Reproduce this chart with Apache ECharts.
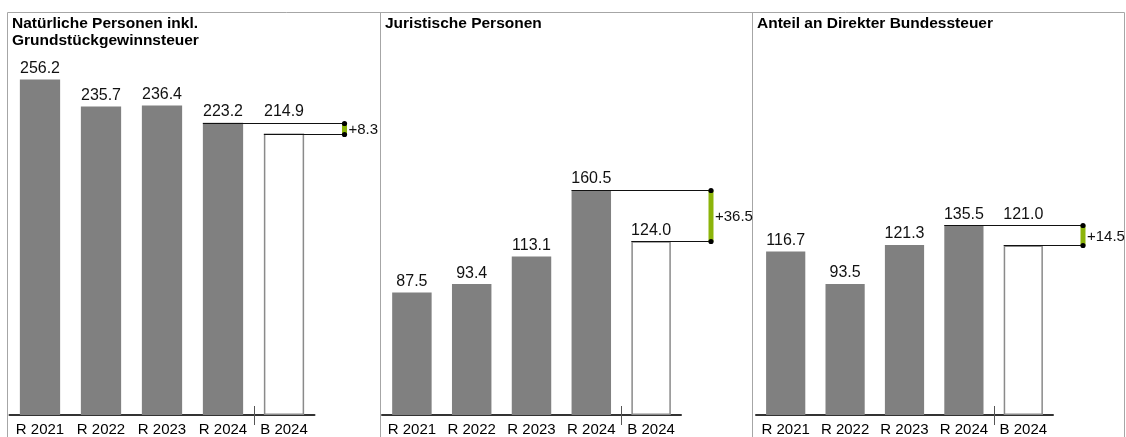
<!DOCTYPE html>
<html>
<head>
<meta charset="utf-8">
<script src="https://cdn.jsdelivr.net/npm/echarts@6/dist/echarts.min.js"></script>
<style>
html,body{margin:0;padding:0;background:#fff;}
#chart{width:1126px;height:437px;}
</style>
</head>
<body>
<div id="chart"></div>
<script>
// ---- data ----
const categories = ['R 2021', 'R 2022', 'R 2023', 'R 2024', 'B 2024'];
const panelTitles = ['Natürliche Personen inkl.\nGrundstückgewinnsteuer', 'Juristische Personen', 'Anteil an Direkter Bundessteuer'];
const natuerlichePersonen = [256.2, 235.7, 236.4, 223.2, 214.9];
const juristischePersonen = [87.5, 93.4, 113.1, 160.5, 124.0];
const anteilBundessteuer = [116.7, 93.5, 121.3, 135.5, 121.0];
const panelValues = [natuerlichePersonen, juristischePersonen, anteilBundessteuer];
const yMaxes = [286.4, 267.6, 267.6];

// ---- layout / style ----
const FONT = 'Liberation Sans, Arial, sans-serif';
const grids = [
  { left: 9.5, width: 305 },
  { left: 382, width: 299 },
  { left: 756, width: 297 }
];
const titleLefts = [12, 385, 757];
const BAR = '#808080';
const GREEN = '#8cb40a';

const chart = echarts.init(document.getElementById('chart'), null, { renderer: 'canvas' });

const option = {
  animation: false,
  backgroundColor: '#fff',
  title: panelTitles.map((t, i) => ({
    text: t, left: titleLefts[i], top: 15, padding: 0,
    textStyle: { fontFamily: FONT, fontSize: 15.5, fontWeight: 'bold', color: '#000', lineHeight: 17 }
  })),
  graphic: [
    { type: 'rect', shape: { x: 7.5, y: 12.5, width: 1117, height: 440 }, style: { fill: 'none', stroke: '#a6a6a6', lineWidth: 1 }, silent: true, z: -1 },
    { type: 'line', shape: { x1: 380.5, y1: 12.5, x2: 380.5, y2: 440 }, style: { stroke: '#a6a6a6', lineWidth: 1 }, silent: true, z: -1 },
    { type: 'line', shape: { x1: 752.5, y1: 12.5, x2: 752.5, y2: 440 }, style: { stroke: '#a6a6a6', lineWidth: 1 }, silent: true, z: -1 }
  ],
  grid: grids.map(g => ({ left: g.left, width: g.width, top: 40, bottom: 21, containLabel: false })),
  xAxis: grids.map((g, i) => ({
    type: 'category', gridIndex: i, data: categories,
    axisLine: { show: true, lineStyle: { color: '#333', width: 2 } },
    axisTick: { show: false },
    axisLabel: { fontFamily: FONT, fontSize: 15, color: '#000', margin: 7, interval: 0 },
    splitLine: { show: false }
  })),
  yAxis: grids.map((g, i) => ({
    type: 'value', gridIndex: i, min: 0, max: yMaxes[i], show: false, splitLine: { show: false }
  })),
  series: []
};

panelValues.forEach((vals, i) => {
  option.series.push({
    type: 'bar', xAxisIndex: i, yAxisIndex: i,
    barWidth: '66%',
    data: vals.map((v, k) => k === vals.length - 1
      ? { value: v, itemStyle: { color: '#fff', borderColor: '#8a8a8a', borderWidth: 1.5 }, label: { show: false } }
      : { value: v }),
    itemStyle: { color: BAR },
    label: {
      show: true, position: 'top', distance: 3,
      fontFamily: FONT, fontSize: 16, color: '#111',
      formatter: p => p.value.toFixed(1)
    },
    z: 2
  });
  option.series.push({
    type: 'custom', xAxisIndex: i, yAxisIndex: i,
    data: [[3, 0]],
    clip: false,
    z: 5,
    renderItem: (params, api) => {
      const n = vals.length;
      const rVal = vals[n - 2], bVal = vals[n - 1];
      const band = api.size([1, 0])[0];
      const barW = band * 0.66;
      const r = api.coord([n - 2, rVal]);
      const b = api.coord([n - 1, bVal]);
      const base = api.coord([n - 1, 0])[1];
      const xEnd = b[0] + band / 2 + 30;
      const sepX = Math.round(r[0] + band / 2) + 0.5;
      const rY = Math.round(r[1]) + 0.5, bY = Math.round(b[1]) + 0.5;
      const diff = rVal - bVal;
      const labelBottom = (b[1] - r[1] < 22) ? r[1] - 3 : b[1] - 3;
      return {
        type: 'group',
        children: [
          { type: 'line', shape: { x1: sepX, y1: base - 9, x2: sepX, y2: base + 10 }, style: { stroke: '#555', lineWidth: 1 } },
          { type: 'line', shape: { x1: r[0] - barW / 2, y1: rY, x2: xEnd, y2: rY }, style: { stroke: '#111', lineWidth: 1 } },
          { type: 'line', shape: { x1: b[0] - barW / 2, y1: bY, x2: xEnd, y2: bY }, style: { stroke: '#111', lineWidth: 1 } },
          { type: 'rect', shape: { x: xEnd - 2.5, y: Math.min(rY, bY), width: 5, height: Math.abs(bY - rY) }, style: { fill: GREEN } },
          { type: 'circle', shape: { cx: xEnd, cy: rY, r: 2.6 }, style: { fill: '#000' } },
          { type: 'circle', shape: { cx: xEnd, cy: bY, r: 2.6 }, style: { fill: '#000' } },
          { type: 'text', x: xEnd + 4, y: (rY + bY) / 2 + 1, style: {
              text: (diff >= 0 ? '+' : '') + diff.toFixed(1), fill: '#111',
              font: '15px ' + FONT, textAlign: 'left', textVerticalAlign: 'middle' } },
          { type: 'text', x: b[0], y: labelBottom, style: {
              text: bVal.toFixed(1), fill: '#111',
              font: '16px ' + FONT, textAlign: 'center', textVerticalAlign: 'bottom' } }
        ]
      };
    }
  });
});

chart.setOption(option);
</script>
</body>
</html>
